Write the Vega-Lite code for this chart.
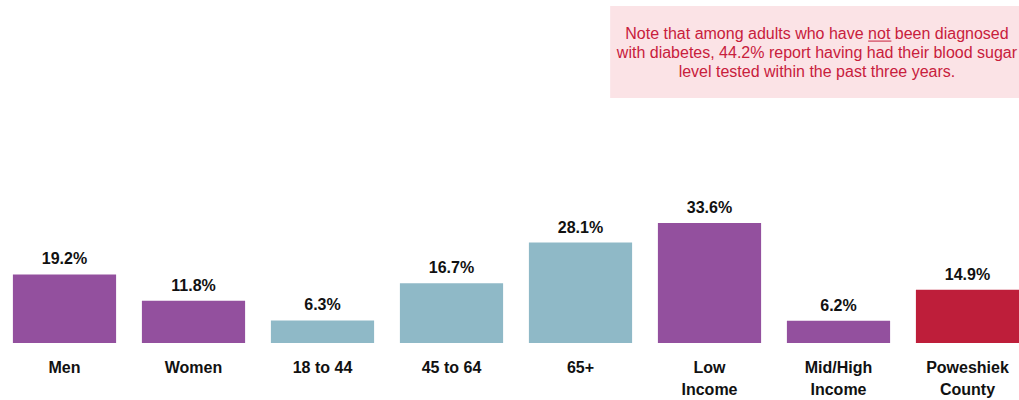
{
  "$schema": "https://vega.github.io/schema/vega-lite/v6.json",
  "width": 1032,
  "height": 343,
  "autosize": {"type": "none"},
  "padding": {"left": 0, "top": 0, "right": 0, "bottom": 57},
  "background": "white",
  "config": {"view": {"stroke": null}, "font": "Liberation Sans"},
  "datasets": {
    "bars": [
      {"group": "Men", "value": 19.2, "kind": "demo"},
      {"group": "Women", "value": 11.8, "kind": "demo"},
      {"group": "18 to 44", "value": 6.3, "kind": "age"},
      {"group": "45 to 64", "value": 16.7, "kind": "age"},
      {"group": "65+", "value": 28.1, "kind": "age"},
      {"group": "Low Income", "value": 33.6, "kind": "demo"},
      {"group": "Mid/High Income", "value": 6.2, "kind": "demo"},
      {"group": "Poweshiek County", "value": 14.9, "kind": "county"}
    ],
    "box": [{"x1": 4.73, "x2": 8.2, "y1": 68.6, "y2": 94.3}],
    "note": [
      {"line": "Note that among adults who have not been diagnosed", "xc": 6.333, "yc": 86.5},
      {"line": "with diabetes, 44.2% report having had their blood sugar", "xc": 6.333, "yc": 81.2},
      {"line": "level tested within the past three years.", "xc": 6.333, "yc": 75.8}
    ],
    "underline": [{"u1": 6.73, "u2": 6.91, "uy": 84.5}]
  },
  "layer": [
    {
      "data": {"name": "bars"},
      "transform": [{"calculate": "format(datum.value, '.1f') + '%'", "as": "label"}],
      "layer": [
        {
          "mark": {"type": "bar"},
          "encoding": {
            "x": {
              "field": "group", "type": "nominal", "sort": null,
              "scale": {"paddingInner": 0.2, "paddingOuter": 0.1},
              "axis": {
                "title": null, "domain": false, "ticks": false, "labelAngle": 0,
                "labelFont": "Liberation Sans",
                "labelFontSize": 16, "labelFontWeight": "bold", "labelColor": "#111111",
                "labelPadding": 16, "labelLineHeight": 22,
                "labelExpr": "indexof(['Low Income','Mid/High Income','Poweshiek County'], datum.label) >= 0 ? split(datum.label, ' ') : datum.label"
              }
            },
            "y": {"field": "value", "type": "quantitative", "scale": {"domain": [0, 96], "nice": false, "zero": true}, "axis": null},
            "color": {
              "field": "kind", "type": "nominal",
              "scale": {"domain": ["demo", "age", "county"], "range": ["#93509E", "#8FB9C7", "#BE1E3A"]},
              "legend": null
            }
          }
        },
        {
          "mark": {"type": "text", "baseline": "bottom", "dy": -7, "font": "Liberation Sans", "fontSize": 16, "fontWeight": "bold", "color": "#111111"},
          "encoding": {
            "x": {"field": "group", "type": "nominal", "sort": null},
            "y": {"field": "value", "type": "quantitative"},
            "text": {"field": "label"}
          }
        }
      ]
    },
    {
      "data": {"name": "box"},
      "mark": {"type": "rect", "color": "#FBE3E6"},
      "encoding": {
        "x": {"field": "x1", "type": "quantitative", "scale": {"domain": [0, 8]}, "axis": null},
        "x2": {"field": "x2"},
        "y": {"field": "y1", "type": "quantitative"},
        "y2": {"field": "y2"}
      }
    },
    {
      "data": {"name": "note"},
      "mark": {"type": "text", "fontSize": 16, "color": "#C8203C", "baseline": "middle", "align": "center"},
      "encoding": {
        "x": {"field": "xc", "type": "quantitative", "scale": {"domain": [0, 8]}, "axis": null},
        "y": {"field": "yc", "type": "quantitative"},
        "text": {"field": "line"}
      }
    },
    {
      "data": {"name": "underline"},
      "mark": {"type": "rule", "color": "#C8203C", "strokeWidth": 1},
      "encoding": {
        "x": {"field": "u1", "type": "quantitative", "scale": {"domain": [0, 8]}, "axis": null},
        "x2": {"field": "u2"},
        "y": {"field": "uy", "type": "quantitative"}
      }
    }
  ],
  "resolve": {"scale": {"x": "independent"}}
}
